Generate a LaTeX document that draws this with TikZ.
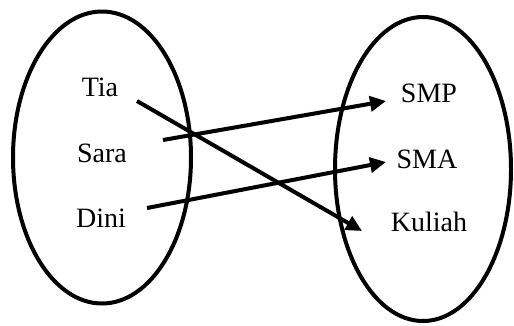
\documentclass[tikz,border=0pt]{standalone}
\usepackage{fontspec}
\setmainfont{Liberation Serif}
\usetikzlibrary{arrows.meta}
\begin{document}
\begin{tikzpicture}[x=1pt,y=-1pt,
  setring/.style={draw=black,line width=4pt},
  label/.style={font=\fontsize{28}{30}\selectfont,inner sep=0pt},
  mapto/.style={line width=4pt,-{Triangle[length=16pt,width=15pt]}}]
  \useasboundingbox (0,0) rectangle (514,325);
  % the two sets
  \draw[setring] (102,157.5) ellipse [x radius=89, y radius=146];
  \draw[setring] (423,169) ellipse [x radius=88, y radius=152];
  % domain
  \node[label] (tia)  at (100,87)  {Tia};
  \node[label] (sara) at (102,153) {Sara};
  \node[label] (dini) at (101,218) {Dini};
  % codomain
  \node[label] (smp)    at (429,93)  {SMP};
  \node[label] (sma)    at (427,159) {SMA};
  \node[label] (kuliah) at (429,222) {Kuliah};
  % arrow end points
  \coordinate (tiaOut)  at (137,101);
  \coordinate (saraOut) at (163,140);
  \coordinate (diniOut) at (147,208);
  \coordinate (smpIn)    at (386,101);
  \coordinate (smaIn)    at (386,162);
  \coordinate (kuliahIn) at (362,231);
  % mapping
  \draw[mapto] (tiaOut) -- (kuliahIn);
  \draw[mapto] (saraOut) -- (smpIn);
  \draw[mapto] (diniOut) -- (smaIn);
\end{tikzpicture}
\end{document}
